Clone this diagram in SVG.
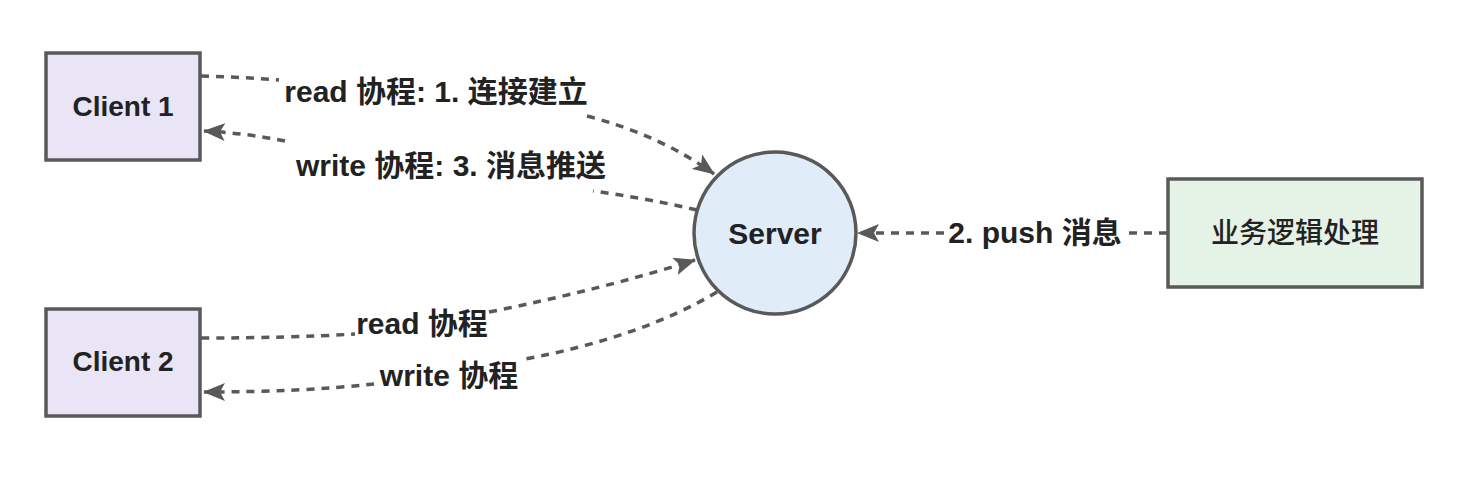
<svg xmlns="http://www.w3.org/2000/svg" width="1480" height="482" viewBox="0 0 1480 482">
<style>
.box{stroke:#595959;stroke-width:3.5}
.lbl{font-family:"Liberation Sans","Noto Sans CJK SC",sans-serif;font-size:30px;font-weight:bold;fill:#222;text-anchor:middle}
.node{font-size:28px}
.reg{font-weight:500}
.edge{fill:none;stroke:#595959;stroke-width:3.5;stroke-dasharray:8 7}
</style>
<defs>
<marker id="arr" viewBox="0 0 22 18" refX="21" refY="9" markerWidth="22" markerHeight="18" markerUnits="userSpaceOnUse" orient="auto">
<path d="M0,0 L22,9 L0,18 L5,9 z" fill="#595959"/>
</marker>
</defs>
<rect width="1480" height="482" fill="#ffffff"/>
<g id="connectors">
<path class="edge" marker-end="url(#arr)" d="M201,76 Q240,77 279,80 M587,116 Q660,135 714,174"/>
<path class="edge" marker-end="url(#arr)" d="M697,210 Q645,198 593,191 M285,141 Q245,133 204,131"/>
<path class="edge" marker-end="url(#arr)" d="M1167,233 L1125,233 M944,233 L858,233"/>
<path class="edge" marker-end="url(#arr)" d="M201,338 Q290,338 355,334 M489,312 Q600,290 695,260"/>
<path class="edge" marker-end="url(#arr)" d="M717,292 Q640,338 520,360 M374,384 Q300,392 204,392"/>
<text class="lbl" x="436" y="102">read 协程: 1. 连接建立</text>
<text class="lbl" x="451" y="176">write 协程: 3. 消息推送</text>
<text class="lbl" x="1035" y="243">2. push 消息</text>
<text class="lbl" x="422" y="334">read 协程</text>
<text class="lbl" x="449" y="386">write 协程</text>
</g>
<g id="client1">
<rect class="box" x="46" y="53" width="154" height="107" fill="#e9e5f7"/>
<text class="lbl node" x="123" y="116">Client 1</text>
</g>
<g id="client2">
<rect class="box" x="46" y="309" width="154" height="107" fill="#e9e5f7"/>
<text class="lbl node" x="123" y="371">Client 2</text>
</g>
<g id="server">
<circle class="box" cx="775" cy="233" r="81" fill="#e0edf9"/>
<text class="lbl" x="775" y="244">Server</text>
</g>
<g id="logic">
<rect class="box" x="1168" y="179" width="254" height="108" fill="#e5f2e6"/>
<text class="lbl node reg" x="1295" y="243">业务逻辑处理</text>
</g>
</svg>
